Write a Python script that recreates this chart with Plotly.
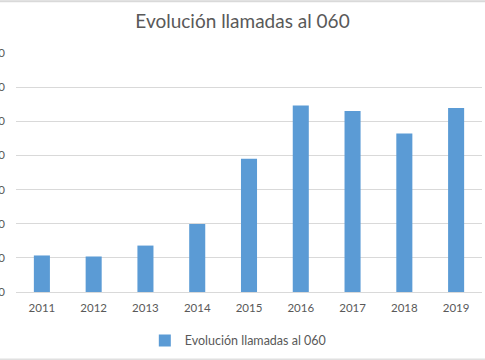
import plotly.graph_objects as go

years = ["2011", "2012", "2013", "2014", "2015", "2016", "2017", "2018", "2019"]
calls = [10700, 10400, 13600, 19900, 39000, 54600, 53000, 46400, 53900]
y_ticks = [0, 10000, 20000, 30000, 40000, 50000, 60000, 70000]
series_name = "Evolución llamadas al 060"

fig = go.Figure()
fig.add_trace(go.Bar(
    x=years, y=calls, name=series_name,
    marker=dict(color="#5B9BD5", line=dict(width=0)),
    showlegend=True,
))

font_family = "Lato, 'Open Sans', sans-serif"
fig.update_layout(
    template="none",
    width=485, height=360,
    margin=dict(l=16, r=3, t=53, b=68),
    paper_bgcolor="white", plot_bgcolor="white",
    title=dict(text=series_name, x=0.5, xanchor="center", y=0.94, yanchor="middle",
               font=dict(family=font_family, size=19, color="#595959")),
    bargap=0.69,
    showlegend=True,
    legend=dict(orientation="h", x=0.476, xanchor="center", y=-0.205, yanchor="middle",
                font=dict(family=font_family, size=12.5, color="#595959"),
                itemwidth=30, bgcolor="rgba(0,0,0,0)"),
    xaxis=dict(showgrid=False, showline=True, linecolor="#D9D9D9", linewidth=1,
               ticks="", tickmode="array", tickvals=years, ticktext=years,
               ticklabelstandoff=5,
               tickfont=dict(family=font_family, size=11.5, color="#595959"),
               automargin=False, zeroline=False),
    yaxis=dict(range=[0, 70000], tickvals=y_ticks, showgrid=True, gridcolor="#D9D9D9",
               gridwidth=1, showline=False, zeroline=False, ticks="",
               tickformat="d", ticklabelstandoff=10,
               tickfont=dict(family=font_family, size=11.5, color="#595959"),
               automargin=False),
)
fig.add_shape(type="line", xref="paper", yref="paper", x0=-0.1, x1=1.1, y0=1.217, y1=1.217,
              line=dict(color="#D9D9D9", width=2))
fig.add_shape(type="rect", xref="paper", yref="paper", x0=-0.05, x1=1.05,
              y0=-0.278, y1=-0.3, line=dict(width=0), fillcolor="#E0E0E0")

fig.write_html("out.html",
               config={"displayModeBar": False},
               post_script="document.body.style.margin='0';document.body.style.overflow='hidden';")
